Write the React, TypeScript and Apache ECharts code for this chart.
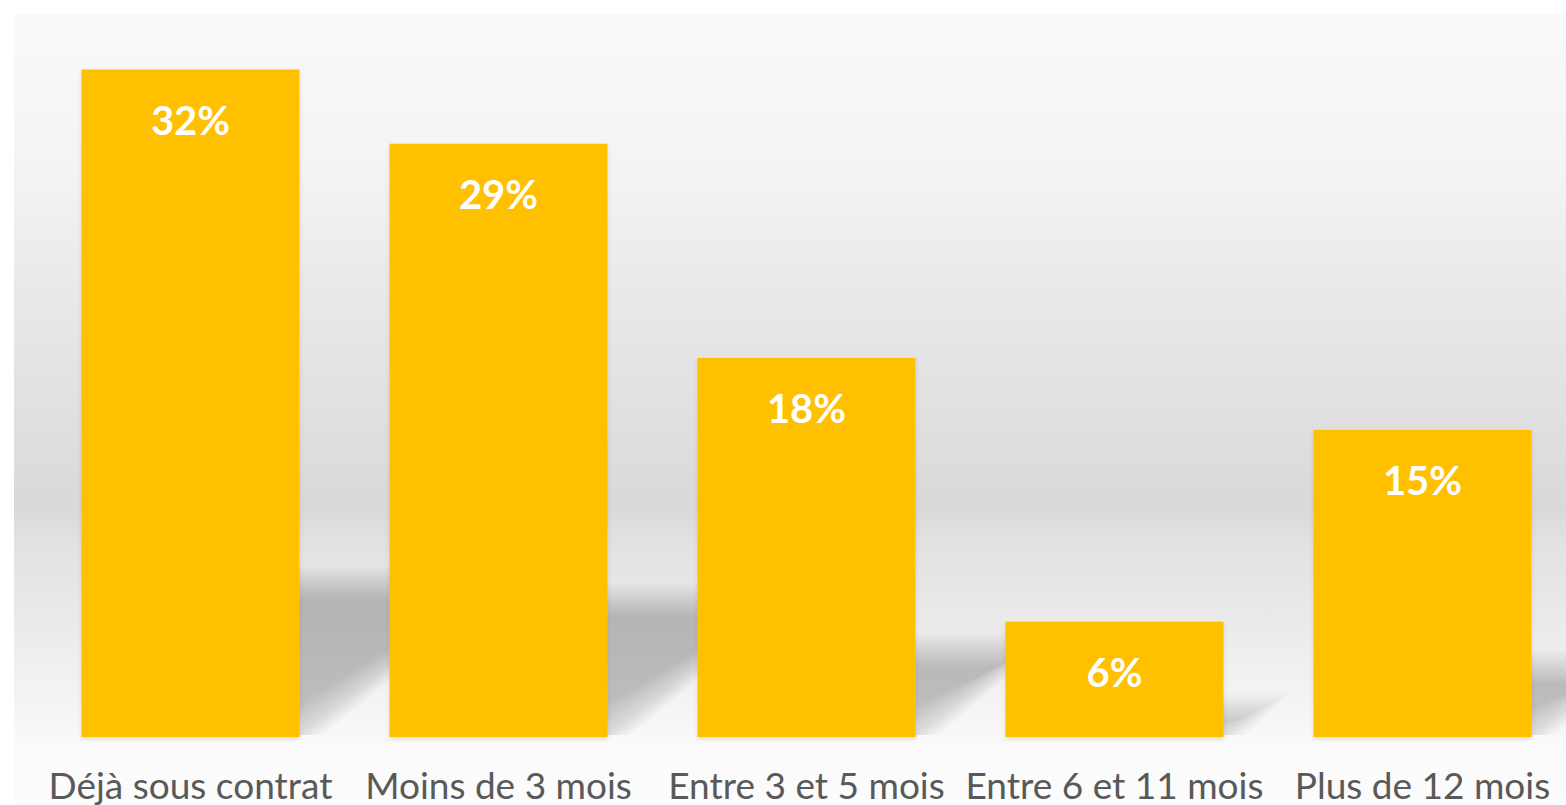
import React, { useEffect, useRef } from "react";
import * as echarts from "echarts";

const categories = [
  "Déjà sous contrat",
  "Moins de 3 mois",
  "Entre 3 et 5 mois",
  "Entre 6 et 11 mois",
  "Plus de 12 mois",
];
const values = [32.4, 28.8, 18.4, 5.6, 14.9];

const BAR_W = 218;

export default function App() {
  const ref = useRef<HTMLDivElement>(null);
  useEffect(() => {
    document.body.style.margin = "0";
    document.body.style.overflow = "hidden";
    const chart = echarts.init(ref.current!, null, { renderer: "svg" });
    const shadowData = values.map((v, i) => [i, v]);
    chart.setOption({
      animation: false,
      graphic: {
        elements: [
          {
            type: "rect",
            z: -10,
            silent: true,
            shape: { x: 14, y: 14, width: 1580, height: 805 },
            style: {
              fill: new echarts.graphic.LinearGradient(0, 0, 0, 1, [
                { offset: 0, color: "#fafafa" },
                { offset: 0.2, color: "#f3f3f3" },
                { offset: 0.3616, color: "#e8e8e8" },
                { offset: 0.614, color: "#d9d9d9" },
                { offset: 0.66, color: "#e2e2e2" },
                { offset: 0.741, color: "#e9e9e9" },
                { offset: 0.867, color: "#f5f5f5" },
                { offset: 0.918, color: "#fbfbfb" },
                { offset: 1, color: "#fcfcfc" },
              ]),
            },
          },
        ],
      },
      grid: { left: 36.5, right: 3.5, top: 36.6, bottom: 68, containLabel: false },
      xAxis: {
        type: "category",
        data: categories,
        axisLine: { show: false },
        axisTick: { show: false },
        axisLabel: {
          color: "#595959",
          fontFamily: "Lato",
          fontSize: 37,
          margin: 29,
          interval: 0,
        },
      },
      yAxis: {
        type: "value",
        min: 0,
        max: 34,
        show: false,
        splitLine: { show: false },
      },
      series: [
        {
          type: "custom",
          z: 1,
          silent: true,
          data: shadowData,
          encode: { x: 0, y: 1 },
          renderItem: (params: any, api: any) => {
            const base = api.coord([api.value(0), 0]);
            const top = api.coord([api.value(0), api.value(1)]);
            const h = base[1] - top[1];
            const s = 0.23 * h;
            const dx = 1.3 * s;
            const x0 = base[0] - BAR_W / 2;
            const x1 = base[0] + BAR_W / 2;
            const N = 14;
            const step = 2.6;
            const children: any[] = [];
            for (let i = 0; i < N; i++) {
              const g = ((N - 1) / 2 - i) * step;
              const by = base[1] - Math.max(0, -g) - 2;
              const ty = Math.min(base[1] - s - g, by - 1);
              children.push({
                type: "polygon",
                shape: {
                  points: [
                    [x0, by],
                    [x1 + g * 1.4, by],
                    [x1 + dx + g * 1.8, ty],
                    [x0 + dx, ty],
                  ],
                },
                style: { fill: "rgba(0,0,0,0.0145)" },
              });
            }
            return { type: "group", children };
          },
        },
        {
          type: "bar",
          z: 3,
          data: values,
          barWidth: BAR_W,
          itemStyle: {
            color: "#FFC000",
            shadowColor: "rgba(0,0,0,0.12)",
            shadowBlur: 4,
            shadowOffsetY: 2,
          },
          label: {
            show: true,
            position: "insideTop",
            distance: 30,
            color: "#ffffff",
            fontFamily: "Lato",
            fontWeight: "bold",
            fontSize: 40,
            lineHeight: 40,
            formatter: (p: any) => Math.round(p.value) + "%",
          },
        },
      ],
    });
    return () => chart.dispose();
  }, []);
  return (
    <div style={{ position: "fixed", left: 0, top: 0, width: 1566, height: 805, overflow: "hidden", background: "#ffffff" }}>
      <div ref={ref} style={{ width: 1580, height: 805 }} />
    </div>
  );
}
